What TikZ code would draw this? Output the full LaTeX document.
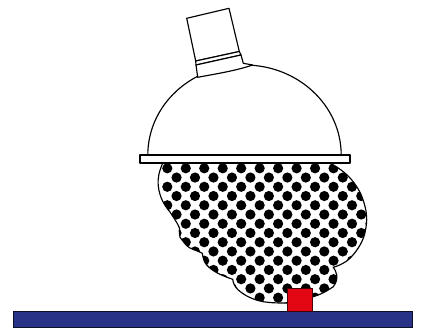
\documentclass[tikz,border=0pt]{standalone}
\usepackage{tikz}
\usetikzlibrary{arrows.meta,calc,positioning}
\definecolor{basebar}{RGB}{40,50,135}
\definecolor{chipred}{RGB}{227,6,19}
\tikzset{
  wire/.style  = {line width=1.15pt, black},
  glass/.style = {wire, fill=white, line join=round},
  dot/.style   = {fill=black},
}
\newcommand{\plumepath}{
  (162.7,163)
  .. controls (159,172) and (157.5,178) .. (158.3,186)
  .. controls (159.5,197) and (164,205) .. (170,212)
  .. controls (173,217) and (177,222) .. (179.5,228)
  .. controls (179,232) and (179.5,235) .. (180,237.3)
  .. controls (183,241) and (186,246) .. (190,248)
  .. controls (194,250) and (198,251) .. (202.3,253.3)
  .. controls (203,258) and (204,262) .. (206.7,265)
  .. controls (213,272) and (223,276) .. (232.7,279.3)
  .. controls (233,283) and (235,287) .. (238.3,290)
  .. controls (245,296) and (254,300) .. (263.3,301.7)
  .. controls (271,303) and (279,303) .. (288,303)
  -- (312,297)
  .. controls (320,295) and (327,291) .. (333.3,286.7)
  .. controls (336,283) and (337.5,279) .. (336.7,275)
  .. controls (336,272) and (335,269) .. (333.3,267.3)
  .. controls (341,265) and (346,262) .. (350,258.3)
  .. controls (358,250) and (364,240) .. (365.5,230)
  .. controls (367,222) and (367,218) .. (366,211)
  .. controls (364,201) and (361,193) .. (356.7,186.7)
  .. controls (350,176) and (341,169) .. (330,163)
  -- cycle}
\begin{document}
\begin{tikzpicture}[x=1pt,y=-1pt]
  \useasboundingbox (0,0) rectangle (422,327);
  % plume
  \begin{scope}
    \clip \plumepath;
    \foreach \r in {0,...,15}{
      \foreach \c in {0,...,11}{
        \fill[dot] ({167.3+18.47*\c+9.23*mod(\r,2)},{168.3+9.24*\r}) circle (5.1);}}
  \end{scope}
  \draw[wire] \plumepath;
  % dome and neck
  \draw[glass] (147.8,155) arc[start angle=180,end angle=0,x radius=96.7,y radius=-90] -- cycle;
  \draw[glass] (186.7,18.3) -- (229,8.3) -- (239.3,51.5) -- (195.7,61) -- cycle;
  \draw[glass] (195.7,61) -- (239.3,51.5) -- (241,55) -- (196,65) -- cycle;
  \draw[glass] (196,65) -- (241,55) -- (243.3,63.3) -- (252.7,65)
     .. controls (235,71) and (215,74) .. (197.7,77.3) -- cycle;
  \draw[glass] (140,155) rectangle (350,163);
  % substrate and source
  \draw[line width=0.7pt,draw=black!70!basebar,fill=basebar] (13,311) rectangle (412,327.5);
  \draw[line width=0.9pt,draw=black!70!chipred,fill=chipred] (287,288.5) rectangle (312.3,311);
\end{tikzpicture}
\end{document}
